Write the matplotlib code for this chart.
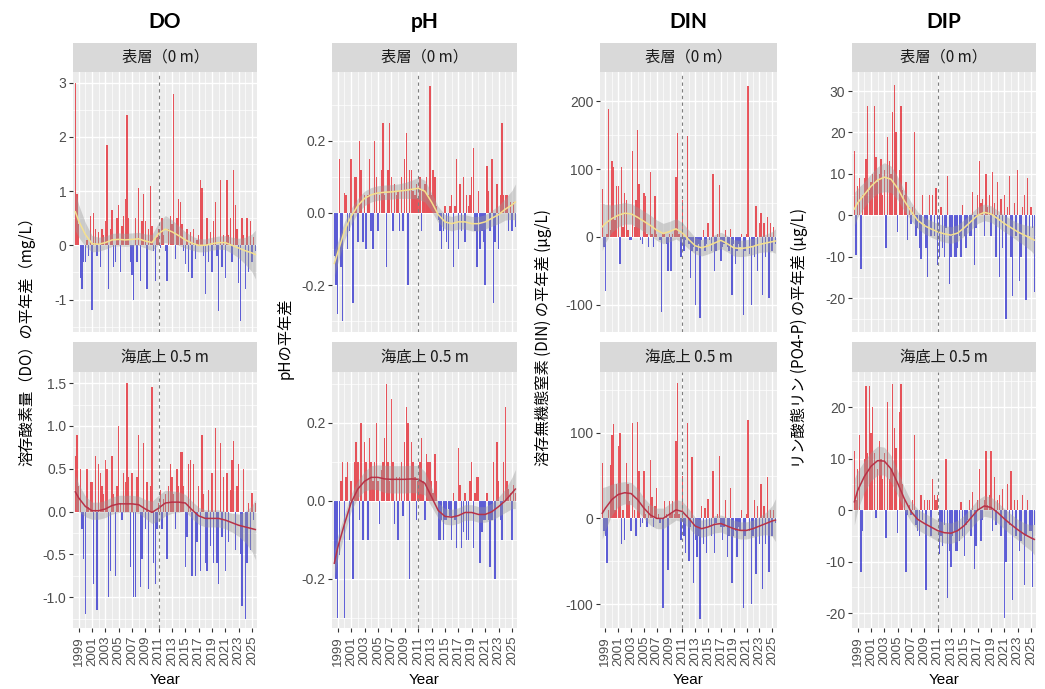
import numpy as np
import matplotlib
matplotlib.use("Agg")
import matplotlib.pyplot as plt
from matplotlib.ticker import FixedLocator

plt.rcParams["axes.unicode_minus"] = False

# ---------------------------------------------------------------
# Quarterly anomalies (first value at 1998.5, step 0.25 year)
# ---------------------------------------------------------------
do_surface = [
    3.0, 0.95,
    0.4, -0.6, -0.8, -0.3,
    -0.3, 0.1, -0.2, 0.55,
    -1.2, 0.6, 0.3, -0.2,
    0.25, -0.4, 0.3, 0.2,
    0.45, 1.85, -0.8, 0.3,
    0.65, -0.4, -0.3, 0.5,
    0.75, -0.5, 0.35, 0.55,
    0.85, 2.4, 0.5, -0.3,
    -0.55, -1.0, 0.5, -0.3,
    1.05, -0.65, 0.45, 0.95,
    0.45, -0.8, 0.3, 1.1,
    0.35, -0.1, -0.65, 0.15,
    0.3, -0.05, 0.5, 0.2,
    -0.1, -0.65, 0.3, 0.55,
    0.4, 2.8, -0.25, 0.5,
    0.85, 0.8, 0.4, -0.1,
    -0.35, 0.3, -0.5, 0.25,
    -0.6, 0.3, -0.25, 0.1,
    0.2, 1.2, 1.05, -0.2,
    -0.9, 0.5, -0.3, 0.25,
    -0.5, 0.45, 0.8, -0.2,
    -1.22, 1.2, -0.4, 0.2,
    -0.6, 1.2, 0.2, 0.5,
    -0.3, 1.4, 0.75, 0.3,
    -0.7, -1.4, 0.5, 0.2,
    -0.8, 0.5, -0.5, 0.45,
    -0.3, 0.15, -0.1,
]
do_bottom = [
    0.65, 0.9,
    0.3, 0.5, -0.2, -0.55,
    -1.2, 0.5, 0.05, 0.35,
    0.35, -0.85, 0.65, -1.15,
    0.55, 0.45, 0.3, 0.2,
    0.6, 0.5, -1.0, -0.7,
    0.65, 0.2, -0.75, 0.3,
    1.0, 0.1, -0.1, 0.45,
    0.35, 1.5, 0.4, -0.65,
    0.45, -1.0, -1.0, 0.4,
    0.9, -0.88, -0.55, 0.8,
    -0.2, 0.35, -0.9, 0.3,
    1.45, -0.6, -0.85, -0.2,
    0.1, 0.25, -0.2, 0.15,
    0.2, -0.55, 0.3, 0.55,
    0.4, 0.2, -0.2, 0.5,
    0.3, 0.7, 0.7, 0.3,
    -0.65, -0.3, 0.55, 0.6,
    -0.75, 0.55, -0.75, -0.35,
    0.3, -0.7, 0.9, 0.2,
    -0.6, -0.7, 0.25, -0.4,
    0.45, -0.6, 0.98, -0.6,
    -0.85, 0.8, -0.3, 0.4,
    -0.7, 0.45, -0.35, 0.25,
    0.6, 0.82, -0.45, 0.3,
    0.55, -0.5, -1.1, 0.5,
    -1.25, -0.6, 0.1, -0.45,
    0.22, -0.1, 0.1,
]
ph_surface = [
    -0.12, -0.2,
    -0.28, 0.15, -0.15, -0.3,
    0.055, 0.05, -0.1, -0.05,
    0.15, -0.25, 0.1, 0.1,
    -0.08, 0.2, 0.12, -0.08,
    0.05, -0.1, 0.05, 0.15,
    -0.05, -0.1, 0.2, 0.1,
    -0.05, 0.05, 0.12, 0.25,
    0.05, -0.15, 0.12, 0.25,
    0.1, -0.05, 0.08, 0.05,
    0.06, -0.05, 0.1, -0.05,
    0.15, 0.22, -0.2, 0.12,
    0.12, 0.06, 0.05, 0.08,
    0.04, 0.1, -0.05, 0.06,
    0.08, 0.1, 0.05, 0.35,
    0.05, 0.12, 0.1, 0.02,
    -0.02, -0.05, -0.1, -0.05,
    0.02, -0.08, -0.1, 0.02,
    0.05, -0.15, 0.02, 0.15,
    -0.1, 0.08, -0.05, 0.1,
    -0.08, 0.05, 0.02, 0.05,
    0.1, 0.18, -0.05, -0.15,
    0.06, -0.1, -0.05, -0.08,
    -0.2, 0.13, 0.06, -0.05,
    0.15, -0.25, -0.08, 0.08,
    -0.1, 0.05, 0.25, 0.05,
    0.05, 0.05, -0.05, 0.03,
    -0.05, 0.03, -0.04,
]
ph_bottom = [
    -0.16, -0.2,
    -0.3, -0.14, 0.05, 0.1,
    -0.3, 0.06, 0.1, -0.1,
    0.05, -0.2, 0.1, 0.15,
    0.1, -0.05, 0.2, -0.1,
    0.15, 0.1, -0.1, 0.16,
    0.1, 0.05, 0.1, 0.2,
    0.05, -0.06, 0.08, 0.1,
    0.16, 0.3, 0.1, 0.05,
    0.26, 0.1, -0.06, 0.06,
    -0.1, 0.06, 0.1, -0.04,
    0.15, 0.24, 0.2, -0.2,
    0.15, 0.1, 0.06, -0.05,
    0.05, 0.1, 0.16, 0.05,
    -0.05, 0.12, 0.1, 0.1,
    0.05, 0.02, 0.12, 0.05,
    -0.1, -0.1, -0.05, -0.1,
    -0.05, -0.05, -0.02, -0.04,
    -0.1, 0.02, -0.05, -0.12,
    0.135, 0.04, -0.12, -0.08,
    0.02, -0.1, -0.1, 0.05,
    0.1, -0.12, 0.02, 0.06,
    0.06, -0.16, -0.08, -0.05,
    -0.05, 0.02, -0.05, -0.17,
    -0.05, 0.1, -0.2, 0.15,
    0.05, -0.05, -0.1, 0.1,
    0.24, 0.05, 0.03, 0.02,
    -0.1, 0.04, 0.02,
]
din_surface = [
    70, -15,
    -80, 5, 188, 10,
    112, 103, 25, 75,
    75, -40, 103, 15,
    65, 55, 10, -5,
    -5, 127, 15, 55,
    158, 78, -5, -10,
    65, 60, 5, -15,
    96, 5, -15, 60,
    5, 0, -5, -110,
    5, 5, -10, -50,
    5, -50, 5, 10,
    88, 153, 5, -30,
    55, -20, -5, 148,
    -10, -60, -20, -15,
    -100, -20, -10, -120,
    -5, 10, -20, -10,
    20, -5, -20, 93,
    -50, -20, 5, 77,
    -35, -15, -10, 10,
    -15, -20, 12, -85,
    -10, -40, -20, -10,
    -15, 5, -115, -20,
    5, 222, -25, -100,
    -15, -30, 45, -50,
    20, 35, -85, 20,
    -30, 30, -90, 20,
    -20, 15, -10,
]
din_bottom = [
    65, -15,
    -20, -52, 10, 62,
    98, 110, 10, 40,
    85, 100, -30, 10,
    -25, 65, 40, 20,
    -15, 112, 10, -20,
    113, 55, -10, -5,
    55, 5, -10, 15,
    68, 25, -10, 15,
    35, 5, -5, 0,
    -105, 20, 5, -60,
    20, 5, 20, 5,
    90, 158, 5, -25,
    50, -20, -40, 112,
    -50, -10, 72, -75,
    -25, -45, -20, -117,
    15, -30, 12, -40,
    23, -10, -20, 55,
    -40, -5, 5, 73,
    -10, -25, -10, 22,
    -45, -20, 35, -75,
    -20, -15, -45, -10,
    -15, 10, -105, -20,
    5, 115, -15, -100,
    -20, 22, -65, 15,
    -30, 40, -83, 15,
    -30, 48, -63, 10,
    -20, 10, -5,
]
dip_surface = [
    15.5, -9.5,
    7, 9, -13, 5,
    9, 13.5, 26.5, 6,
    8, 10, 26.5, 14,
    8, 10, 13.5, 5,
    11, -8, 19, 13,
    10, 25, 31.5, 20,
    -4, 11, 26.5, 6,
    5, 8, -6, 2,
    -2, 2, 20, -5,
    -3, -8, -10.5, 5,
    -2, -8, -15, 5,
    -5, 5, -5, 6.5,
    -12, -10, 2, -8,
    -10, -3, 9.5, -16.5,
    -10, -5, -10, -10,
    -8, -5, -10, 2.5,
    -5, -8, -3, -5,
    -5, 5.5, -12, -3,
    5, 13, 3, 4,
    -5, 10, 2, 5,
    -5, 10.5, 3, -10,
    8, -15, 4, -8,
    5, -25, 2, 9.5,
    -10, -19.5, 3, -5,
    11, -16, -10, 2,
    5, -20.5, 9, -5,
    2, -3, -18.5,
]
dip_bottom = [
    11.5, 2,
    8, 14.5, -12, -4,
    10, 24, 11, 24,
    15, 20, 11, -1.5,
    8, 13.5, 10, 6,
    11, -5.5, 21, 6,
    8, 24.5, 16, 12,
    -4.5, 19, 24.5, 5,
    2, -12, -1, 1,
    -1, 2, 14.5, -3,
    -4, -5, 3, -2,
    2, -15.5, 2, 2,
    -5, 6, 3, 2,
    3, -8.5, -5, -7,
    -3, 10, -17, -8,
    -11, -5, -4, -8,
    -8, -6, 1.5, -5,
    -9, -3, -2, 2,
    -5, 3.5, -11.5, -7,
    2, 8, -6, -2,
    2, 11.5, 1, 3,
    11.5, -4, 6.5, -3,
    2, 3, -5, 4,
    -21, -10, 5, -3,
    7.5, -17.5, 2, -5,
    2, -8, -6, 3,
    -14.5, -5, 2, -4,
    -4, -15, -3,
]

# ---------------------------------------------------------------
# Smoothed trend and half-width of its confidence band
# (knots: 1998.5, 1999 ... 2025, 2025.5)
# ---------------------------------------------------------------
knot_years = [1998.5] + list(range(1999, 2026)) + [2025.5]

do_surface_trend = [0.62, 0.45, 0.2, 0.03, 0.02, 0.05, 0.1, 0.11, 0.1, 0.11, 0.12, 0.08,
                    0.05, 0.22, 0.3, 0.25, 0.18, 0.1, 0.04, 0.0, 0.0, 0.03, 0.05, 0.05,
                    0.0, -0.05, -0.1, -0.14, -0.17]
do_surface_se = [0.35, 0.3, 0.22, 0.15, 0.13, 0.12, 0.12, 0.12, 0.12, 0.12, 0.12, 0.13,
                 0.15, 0.2, 0.25, 0.22, 0.18, 0.15, 0.13, 0.12, 0.12, 0.12, 0.12, 0.13,
                 0.15, 0.18, 0.25, 0.35, 0.45]
do_bottom_trend = [0.23, 0.16, 0.06, 0.01, 0.01, 0.03, 0.07, 0.09, 0.09, 0.09, 0.08, 0.03,
                   -0.01, 0.04, 0.1, 0.11, 0.11, 0.1, 0.02, -0.05, -0.08, -0.08, -0.08, -0.1,
                   -0.13, -0.16, -0.18, -0.2, -0.21]
do_bottom_se = [0.2, 0.16, 0.12, 0.1, 0.1, 0.1, 0.1, 0.1, 0.1, 0.1, 0.1, 0.11,
                0.13, 0.15, 0.15, 0.13, 0.12, 0.1, 0.1, 0.1, 0.1, 0.1, 0.1, 0.1,
                0.11, 0.13, 0.18, 0.27, 0.35]
ph_surface_trend = [-0.14, -0.11, -0.05, -0.01, 0.02, 0.04, 0.05, 0.055, 0.057, 0.058, 0.06,
                    0.062, 0.065, 0.068, 0.06, 0.03, -0.005, -0.025, -0.03, -0.025, -0.025,
                    -0.03, -0.03, -0.025, -0.015, -0.005, 0.01, 0.022, 0.03]
ph_surface_se = [0.035, 0.03, 0.025, 0.022, 0.02, 0.02, 0.02, 0.02, 0.02, 0.02, 0.02, 0.022,
                 0.025, 0.03, 0.03, 0.025, 0.022, 0.02, 0.02, 0.02, 0.02, 0.02, 0.02, 0.02,
                 0.022, 0.025, 0.03, 0.04, 0.05]
ph_bottom_trend = [-0.16, -0.12, -0.06, -0.005, 0.03, 0.05, 0.06, 0.06, 0.056, 0.055, 0.055,
                   0.055, 0.056, 0.055, 0.045, 0.01, -0.025, -0.04, -0.042, -0.038, -0.03,
                   -0.03, -0.035, -0.035, -0.028, -0.015, 0.0, 0.02, 0.03]
ph_bottom_se = [0.035, 0.03, 0.025, 0.022, 0.022, 0.025, 0.03, 0.032, 0.035, 0.035, 0.035,
                0.035, 0.035, 0.035, 0.03, 0.025, 0.02, 0.02, 0.02, 0.02, 0.02, 0.02, 0.02,
                0.02, 0.022, 0.025, 0.03, 0.04, 0.05]
din_surface_trend = [15, 20, 27, 32, 35, 34, 29, 23, 17, 10, 5, 8, 12, 6, -4, -13, -16, -13,
                     -9, -5, -10, -16, -17, -16, -14, -11, -9, -7, -6]
din_surface_se = [35, 28, 20, 17, 16, 15, 15, 15, 15, 15, 15, 15, 15, 15, 14, 12, 12, 12,
                  12, 12, 12, 12, 12, 12, 12, 12, 13, 15, 18]
din_bottom_trend = [6, 12, 22, 28, 30, 29, 22, 12, 4, 0, 0, 5, 10, 8, 0, -9, -12, -10, -7,
                    -6, -9, -12, -14, -14, -12, -9, -6, -3, -2]
din_bottom_se = [30, 25, 18, 14, 13, 13, 13, 12, 12, 12, 12, 12, 12, 12, 11, 10, 10, 10,
                 10, 10, 10, 10, 10, 10, 10, 11, 13, 18, 25]
dip_surface_trend = [1.5, 3, 5, 7, 8.5, 9.2, 8.7, 6.5, 3.5, 1, -1.2, -2.5, -3.3, -4, -4.5,
                     -4.8, -4.3, -3, -1.5, 0, 0.7, 0.3, -0.8, -2, -3, -4, -4.8, -5.6, -6]
dip_surface_se = [4, 3.5, 3, 3, 3.2, 3.5, 3.2, 2.8, 2.5, 2.2, 2, 2, 2, 2, 2, 2, 2, 2, 2,
                  2, 2, 2, 2, 2, 2, 2.2, 2.5, 3, 3.5]
dip_bottom_trend = [1.6, 3.8, 6.5, 8.5, 9.6, 9.5, 8, 5.2, 2.2, -0.3, -1.8, -2.6, -3.3, -4,
                    -4.4, -4.5, -4, -3, -1.5, 0, 0.8, 0.5, -0.5, -1.7, -2.8, -3.8, -4.7,
                    -5.4, -5.7]
dip_bottom_se = [4.5, 3.8, 3, 2.8, 2.8, 2.7, 2.6, 2.4, 2.2, 2, 2, 2, 2, 2, 2, 2, 2, 2, 2,
                 2, 2, 2, 2, 2, 2, 2, 2.2, 2.5, 3]

# ---------------------------------------------------------------
# Text
# ---------------------------------------------------------------
column_titles = ["DO", "pH", "DIN", "DIP"]
y_titles = ["溶存酸素量（DO）の平年差（mg/L）", "pHの平年差",
            "溶存無機態窒素 (DIN) の平年差 (μg/L)", "リン酸態リン (PO4-P) の平年差 (μg/L)"]
strip_labels = ["表層（0 m）", "海底上 0.5 m"]
year_ticks = list(range(1999, 2026, 2))
year_minor = list(range(2000, 2026, 2))

columns = [
    dict(top=(do_surface, do_surface_trend, do_surface_se),
         bot=(do_bottom, do_bottom_trend, do_bottom_se),
         top_ylim=(-1.6, 3.2), top_ticks=[-1, 0, 1, 2, 3], top_fmt="{:.0f}",
         bot_ylim=(-1.36, 1.63), bot_ticks=[-1.0, -0.5, 0.0, 0.5, 1.0, 1.5], bot_fmt="{:.1f}"),
    dict(top=(ph_surface, ph_surface_trend, ph_surface_se),
         bot=(ph_bottom, ph_bottom_trend, ph_bottom_se),
         top_ylim=(-0.33, 0.39), top_ticks=[-0.2, 0.0, 0.2], top_fmt="{:.1f}",
         bot_ylim=(-0.326, 0.33), bot_ticks=[-0.2, 0.0, 0.2], bot_fmt="{:.1f}"),
    dict(top=(din_surface, din_surface_trend, din_surface_se),
         bot=(din_bottom, din_bottom_trend, din_bottom_se),
         top_ylim=(-140, 243), top_ticks=[-100, 0, 100, 200], top_fmt="{:.0f}",
         bot_ylim=(-128, 171), bot_ticks=[-100, 0, 100], bot_fmt="{:.0f}"),
    dict(top=(dip_surface, dip_surface_trend, dip_surface_se),
         bot=(dip_bottom, dip_bottom_trend, dip_bottom_se),
         top_ylim=(-28.2, 34.6), top_ticks=[-20, -10, 0, 10, 20, 30], top_fmt="{:.0f}",
         bot_ylim=(-22.9, 26.8), bot_ticks=[-20, -10, 0, 10, 20], bot_fmt="{:.0f}"),
]

# ---------------------------------------------------------------
# Layout (pixels)
# ---------------------------------------------------------------
W, H = 1045, 689
col_x = [(73, 257), (332, 517), (600, 777), (852, 1036)]
ylab_x = [27, 285, 543, 799]
top_strip, top_panel = (43, 72), (72, 332)
bot_strip, bot_panel = (342, 372), (372, 628)
XLIM = (1998.15, 2025.75)

JP = ["Noto Sans CJK JP", "DejaVu Sans"]
NUM = ["Liberation Sans", "DejaVu Sans"]
POS, NEG = "#E3000B", "#1010C8"
TOP_LINE, BOT_LINE = "#F5E08E", "#B83247"

fig = plt.figure(figsize=(W / 100, H / 100), dpi=100)


def add_px_axes(x0, x1, y0, y1):
    return fig.add_axes([x0 / W, 1 - y1 / H, (x1 - x0) / W, (y1 - y0) / H])


def minor_between(ticks, lim):
    step = ticks[1] - ticks[0]
    vals = np.arange(ticks[0] - step / 2, lim[1], step)
    return [v for v in vals if lim[0] <= v <= lim[1]]


def draw_panel(ax, series, ylim, ticks, fmt, line_color, show_x):
    vals, trend, se = series
    vals = np.asarray(vals, float)
    t = 1998.5 + 0.25 * np.arange(len(vals))
    trend = np.asarray(trend, float)
    se = np.asarray(se, float)

    ax.set_facecolor("#EBEBEB")
    for s in ax.spines.values():
        s.set_visible(False)
    ax.set_xlim(*XLIM)
    ax.set_ylim(*ylim)
    ax.xaxis.set_major_locator(FixedLocator(year_ticks))
    ax.xaxis.set_minor_locator(FixedLocator(year_minor))
    ax.yaxis.set_major_locator(FixedLocator(ticks))
    ax.yaxis.set_minor_locator(FixedLocator(minor_between(ticks, ylim)))
    ax.grid(which="major", color="white", lw=1.0)
    ax.grid(which="minor", color="white", lw=0.5)
    ax.set_axisbelow(True)

    colors = np.where(vals >= 0, POS, NEG)
    ax.bar(t, vals, width=0.22, color=colors, alpha=0.65, linewidth=0, zorder=2)
    ax.fill_between(knot_years, trend - se, trend + se, color="#999999",
                    alpha=0.4, linewidth=0, zorder=3)
    ax.plot(knot_years, trend, color=line_color, lw=1.1, zorder=4)
    ax.axvline(2011, color="#7F7F7F", lw=0.8, ls=(0, (3, 3)), zorder=5)

    ax.set_yticklabels([fmt.format(v) for v in ticks], fontsize=10,
                       color="#4D4D4D", family=NUM)
    ax.tick_params(axis="y", which="major", length=2.75, color="#333333", width=0.8, pad=2)
    ax.tick_params(which="minor", length=0)
    if show_x:
        ax.set_xticklabels([str(y) for y in year_ticks], rotation=90, fontsize=9.5,
                           color="#4D4D4D", family=NUM)
        ax.tick_params(axis="x", which="major", length=2.75, color="#333333",
                       width=0.8, pad=3)
    else:
        ax.tick_params(axis="x", which="major", length=0, labelbottom=False)


def draw_strip(x0, x1, y0, y1, label):
    sa = add_px_axes(x0, x1, y0, y1)
    sa.set_facecolor("#D9D9D9")
    for s in sa.spines.values():
        s.set_visible(False)
    sa.set_xticks([])
    sa.set_yticks([])
    sa.text(0.5, 0.5, label, ha="center", va="center", fontsize=11,
            color="#1A1A1A", family=JP, transform=sa.transAxes)


for i, col in enumerate(columns):
    x0, x1 = col_x[i]
    draw_strip(x0, x1, *top_strip, strip_labels[0])
    draw_strip(x0, x1, *bot_strip, strip_labels[1])
    ax_t = add_px_axes(x0, x1, *top_panel)
    draw_panel(ax_t, col["top"], col["top_ylim"], col["top_ticks"], col["top_fmt"],
               TOP_LINE, False)
    ax_b = add_px_axes(x0, x1, *bot_panel)
    draw_panel(ax_b, col["bot"], col["bot_ylim"], col["bot_ticks"], col["bot_fmt"],
               BOT_LINE, True)

    cx = (x0 + x1) / 2
    fig.text(cx / W, 1 - 22 / H, column_titles[i], ha="center", va="center",
             fontsize=15, fontweight="bold", family=["Lato", "DejaVu Sans"])
    fig.text(ylab_x[i] / W, 1 - 338 / H, y_titles[i], rotation=90, ha="center",
             va="center", fontsize=11, family=JP)
    fig.text(cx / W, 1 - 680 / H, "Year", ha="center", va="center", fontsize=11,
             family=NUM)

fig.savefig("out.png", dpi=100, facecolor="white")
